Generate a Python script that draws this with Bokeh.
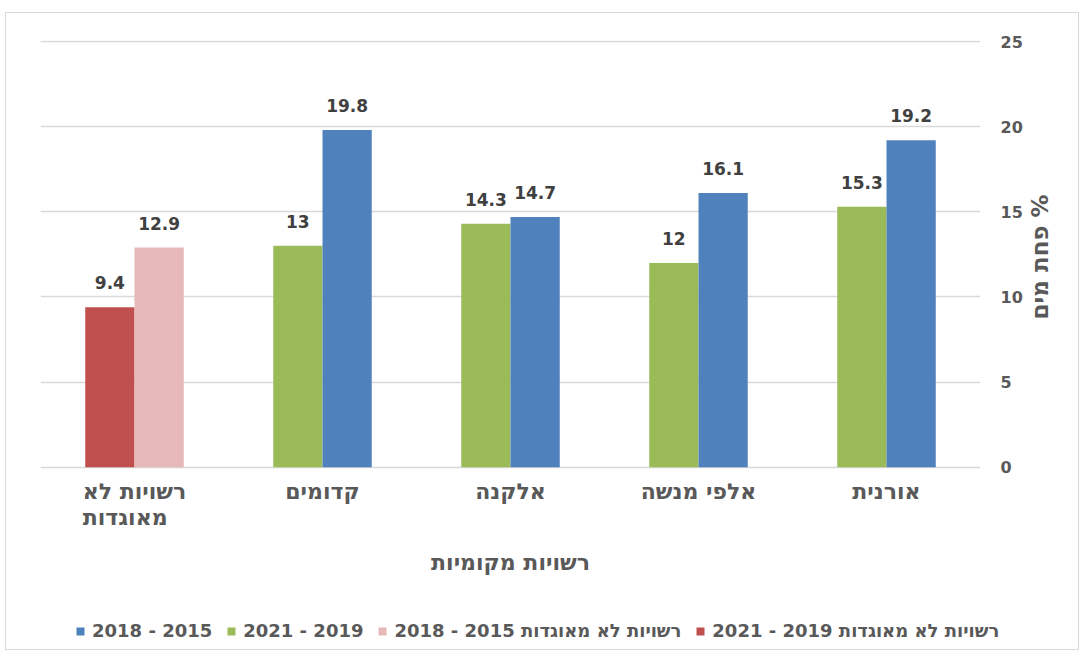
import math
from bokeh.plotting import figure
from bokeh.models import (ColumnDataSource, FactorRange, Range1d, FixedTicker, LabelSet,
                          Legend, LegendItem)
from bokeh.core.properties import value
from bokeh.transform import dodge
from bokeh.embed import file_html
from bokeh.resources import INLINE

# ---- data ----
categories = ["רשויות לא\nמאוגדות", "קדומים", "אלקנה", "אלפי מנשה", "אורנית"]  # left -> right
municipal = ["קדומים", "אלקנה", "אלפי מנשה", "אורנית"]
loss_2015_2018 = [19.8, 14.7, 16.1, 19.2]
loss_2019_2021 = [13.0, 14.3, 12.0, 15.3]
unaffiliated = ["רשויות לא\nמאוגדות"]
unaff_2015_2018 = [12.9]
unaff_2019_2021 = [9.4]
y_ticks = [0, 5, 10, 15, 20, 25]

RLM = "\u200f"
lbl_blue = RLM + "2015 - 2018"
lbl_green = RLM + "2019 - 2021"
lbl_pink = "רשויות לא מאוגדות 2015 - 2018"
lbl_red = "רשויות לא מאוגדות 2019 - 2021"
x_title = "רשויות מקומיות"
y_title = "פחת מים %"

BLUE = "#4F81BD"
GREEN = "#9BBB59"
RED = "#C0504D"
PINK = "#E6B9B8"
GRID = "#D9D9D9"
TXT = "#595959"
LBL = "#404040"
FONT = "DejaVu Sans"
BORDER = "1px solid #D9D9D9"

def fmt(v):
    return f"{v:g}"

src_blue = ColumnDataSource(dict(x=municipal, top=loss_2015_2018, t=[fmt(v) for v in loss_2015_2018]))
src_green = ColumnDataSource(dict(x=municipal, top=loss_2019_2021, t=[fmt(v) for v in loss_2019_2021]))
src_pink = ColumnDataSource(dict(x=unaffiliated, top=unaff_2015_2018, t=[fmt(v) for v in unaff_2015_2018]))
src_red = ColumnDataSource(dict(x=unaffiliated, top=unaff_2019_2021, t=[fmt(v) for v in unaff_2019_2021]))
src_cats = ColumnDataSource(dict(x=categories, y=[0] * len(categories), t=categories))
src_xtitle = ColumnDataSource(dict(x=[categories[2]], y=[0], t=[x_title]))

W = 0.262
OFF = 0.131
series = [(src_green, -OFF, GREEN), (src_blue, OFF, BLUE), (src_red, -OFF, RED), (src_pink, OFF, PINK)]

# ---------------- main chart ----------------
# The frame reaches below zero so that the category labels and the axis title sit inside it,
# and the rotated y-axis title is centred where the reference has it.
p = figure(width=1074, height=587, x_range=FactorRange(*categories), y_range=Range1d(-7.71, 25.06),
           y_axis_location="right", x_axis_location=None, output_backend="svg",
           toolbar_location=None,
           min_border_left=34, min_border_right=100, min_border_top=27, min_border_bottom=2)
p.outline_line_color = None
p.styles = {"border": BORDER, "border-bottom": "none", "margin-left": "5px", "margin-top": "12px"}

for src, off, col in series:
    p.vbar(x=dodge("x", off, range=p.x_range), top="top", width=W, source=src,
           fill_color=col, line_color=None)
    p.add_layout(LabelSet(x=dodge("x", off, range=p.x_range), y="top", text="t", source=src,
                          y_offset=18, text_align="center", text_baseline="alphabetic",
                          text_font=value(FONT), text_font_style="bold", text_font_size="17px",
                          text_color=LBL))

# category labels and x-axis title
p.add_layout(LabelSet(x="x", y="y", text="t", source=src_cats, y_offset=-12,
                      text_align="center", text_baseline="top", text_line_height=1.05,
                      text_font=value(FONT), text_font_style="bold", text_font_size="22px",
                      text_color=TXT))
p.add_layout(LabelSet(x="x", y="y", text="t", source=src_xtitle, y_offset=-95,
                      text_align="center", text_baseline="middle",
                      text_font=value(FONT), text_font_style="bold", text_font_size="22px",
                      text_color=TXT))

p.xgrid.grid_line_color = None
p.ygrid.grid_line_color = GRID
p.ygrid.grid_line_width = 1.4

ya = p.yaxis[0]
ya.ticker = FixedTicker(ticks=y_ticks)
p.ygrid.ticker = FixedTicker(ticks=y_ticks)
ya.axis_line_color = None
ya.major_tick_line_color = None
ya.minor_tick_line_color = None
ya.major_tick_out = 0
ya.major_label_standoff = 20
ya.major_label_text_font = FONT
ya.major_label_text_font_style = "bold"
ya.major_label_text_font_size = "16px"
ya.major_label_text_color = TXT
ya.axis_label = y_title
ya.axis_label_standoff = 14
ya.axis_label_text_font = FONT
ya.axis_label_text_font_style = "bold"
ya.axis_label_text_font_size = "23px"
ya.axis_label_text_color = TXT
ya.axis_label_orientation = math.pi / 2

# ---------------- legend strip ----------------
p2 = figure(width=1074, height=51, x_range=FactorRange(*categories), y_range=Range1d(-2, -1),
            x_axis_location=None, y_axis_location=None, output_backend="svg",
            toolbar_location=None, min_border=0, min_border_left=0, min_border_right=0,
            min_border_top=0, min_border_bottom=0)
p2.outline_line_color = None
p2.grid.visible = False
p2.styles = {"border": BORDER, "border-top": "none", "margin-left": "5px"}
leg_r = {}
for src, off, col in series:
    # empty (zero-size) bars: they only lend their colours to the legend
    leg_r[col] = p2.vbar(x=dodge("x", off, range=p2.x_range), top="top", bottom="top", width=0,
                         source=src, fill_color=col, line_color=None)

legend = Legend(items=[
    LegendItem(label=lbl_blue, renderers=[leg_r[BLUE]]),
    LegendItem(label=lbl_green, renderers=[leg_r[GREEN]]),
    LegendItem(label=lbl_pink, renderers=[leg_r[PINK]]),
    LegendItem(label=lbl_red, renderers=[leg_r[RED]]),
], orientation="horizontal", location=(69, 9), margin=0, padding=0,
    glyph_width=10, glyph_height=10, label_standoff=7, spacing=14,
    label_text_font=FONT, label_text_font_style="bold", label_text_font_size="18px",
    label_text_color=TXT, border_line_color=None, background_fill_alpha=0)
p2.add_layout(legend, "center")

open("out.html", "w").write(file_html([p, p2], INLINE))
